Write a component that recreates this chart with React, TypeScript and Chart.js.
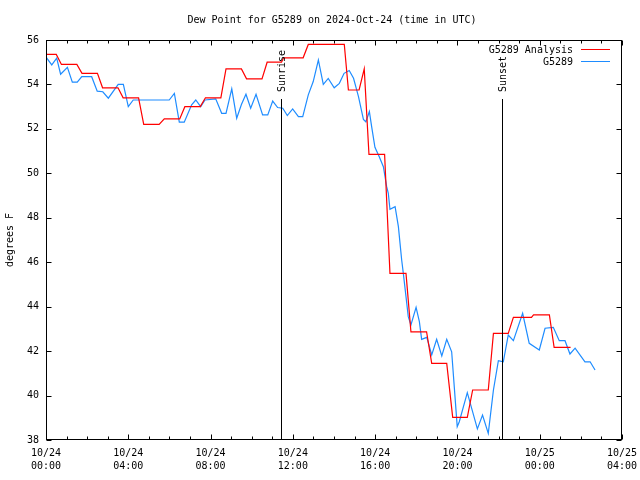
import React, { useEffect, useRef } from "react";
import { Chart, registerables } from "chart.js";

Chart.register(...registerables);

const TITLE = "Dew Point for G5289 on 2024-Oct-24 (time in UTC)";
const Y_TITLE = "degrees F";
const ANALYSIS_LABEL = "G5289 Analysis";
const OBS_LABEL = "G5289";
const SUNRISE_LABEL = "Sunrise";
const SUNSET_LABEL = "Sunset";

// hours since 10/24 00:00 UTC
const X_MIN = 0;
const X_MAX = 28;
const X_STEP = 4;
const X_TICK_LABELS: string[][] = [
  ["10/24", "00:00"],
  ["10/24", "04:00"],
  ["10/24", "08:00"],
  ["10/24", "12:00"],
  ["10/24", "16:00"],
  ["10/24", "20:00"],
  ["10/25", "00:00"],
  ["10/25", "04:00"],
];
const Y_MIN = 38;
const Y_MAX = 56;
const Y_STEP = 2;

const SUNRISE_HOUR = 11.44;
const SUNSET_HOUR = 22.18;

const ANALYSIS_HOURS = [
  0, 0.5, 0.75, 1.5, 1.75, 2.5, 2.75, 3.5, 3.75, 4.5, 4.75, 5.5, 5.75, 6.5, 6.75, 7.5, 7.75, 8.5, 8.75,
  9.5, 9.75, 10.5, 10.75, 11.45, 11.55, 12.5, 12.75, 14.5, 14.7, 15.22, 15.47, 15.7, 16.46, 16.72, 17.5,
  17.74, 18.5, 18.75, 19.48, 19.77, 20.48, 20.74, 21.5, 21.75, 22.47, 22.72, 23.6, 23.7, 24.47, 24.7, 25.5,
];
const ANALYSIS_VALUES = [
  55.35, 55.35, 54.9, 54.9, 54.5, 54.5, 53.85, 53.85, 53.4, 53.4, 52.2, 52.2, 52.45, 52.45, 53.0, 53.0, 53.4, 53.4, 54.7,
  54.7, 54.25, 54.25, 55.0, 55.0, 55.2, 55.2, 55.8, 55.8, 53.75, 53.75, 54.7, 50.85, 50.85, 45.5, 45.5,
  42.87, 42.87, 41.45, 41.45, 39.02, 39.02, 40.25, 40.25, 42.8, 42.8, 43.52, 43.52, 43.63, 43.63, 42.17, 42.17,
];

const OBS_HOURS = [
  0.03, 0.28, 0.52, 0.71, 1.04, 1.28, 1.52, 1.74, 2.22, 2.49, 2.76, 3.03, 3.51, 3.76, 4.0, 4.24, 5.99, 6.24,
  6.48, 6.72, 7.08, 7.28, 7.52, 7.73, 8.25, 8.54, 8.75, 9.03, 9.27, 9.5, 9.72, 9.95, 10.21, 10.53, 10.78,
  11.02, 11.26, 11.51, 11.73, 11.99, 12.27, 12.48, 12.75, 12.99, 13.24, 13.48, 13.72, 14.01, 14.26, 14.49,
  14.74, 14.95, 15.19, 15.43, 15.55, 15.72, 15.83, 15.99, 16.2, 16.4, 16.56, 16.64, 16.72, 16.97, 17.13,
  17.21, 17.29, 17.37, 17.5, 17.61, 17.74, 17.99, 18.15, 18.26, 18.51, 18.75, 18.99, 19.24, 19.48, 19.72,
  19.99, 20.09, 20.48, 20.97, 21.22, 21.5, 21.75, 21.99, 22.23, 22.47, 22.72, 23.17, 23.49, 23.98, 24.26,
  24.66, 24.95, 25.23, 25.47, 25.72, 26.2, 26.45, 26.69,
];
const OBS_VALUES = [
  55.2, 54.88, 55.18, 54.46, 54.77, 54.1, 54.1, 54.35, 54.35, 53.7, 53.67, 53.38, 54.0, 54.0, 53.0, 53.3, 53.3, 53.6,
  52.3, 52.3, 53.08, 53.3, 53.0, 53.3, 53.35, 52.7, 52.7, 53.8, 52.48, 53.1, 53.56, 52.93, 53.56, 52.63, 52.63,
  53.25, 52.96, 52.93, 52.6, 52.9, 52.55, 52.55, 53.53, 54.13, 55.1, 54.0, 54.27, 53.85, 54.05, 54.5,
  54.63, 54.28, 53.45, 52.43, 52.32, 52.78, 52.1, 51.17, 50.75, 50.3, 49.4, 49.1, 48.38, 48.5, 47.6,
  46.85, 46.1, 45.5, 44.45, 43.55, 43.18, 43.97, 43.33, 42.53, 42.62, 41.83, 42.53, 41.78, 42.53, 41.97,
  38.6, 38.82, 40.13, 38.5, 39.12, 38.3, 40.25, 41.57, 41.52, 42.72, 42.47, 43.7, 42.35, 42.05, 43.03,
  43.07, 42.47, 42.47, 41.87, 42.13, 41.52, 41.52, 41.15,
];

const RED = "#ff0000";
const BLUE = "#1e8cff";
const FONT = "DejaVu Sans Mono";

const overlayPlugin = {
  id: "gnuplotOverlay",
  afterDatasetsDraw(chart: any) {
    const ctx: CanvasRenderingContext2D = chart.ctx;
    const { left, right, top, bottom } = chart.chartArea;
    const xs = chart.scales.x;
    const ys = chart.scales.y;
    ctx.save();
    ctx.strokeStyle = "#000";
    ctx.fillStyle = "#000";
    ctx.lineWidth = 1;

    // sunrise / sunset
    ctx.font = `10px ${FONT}`;
    const sun = (h: number, label: string) => {
      const px = Math.round(xs.getPixelForValue(h)) + 0.5;
      ctx.beginPath();
      ctx.moveTo(px, top + 59);
      ctx.lineTo(px, bottom);
      ctx.stroke();
      ctx.save();
      ctx.translate(px + 1, top + 52);
      ctx.rotate(-Math.PI / 2);
      ctx.textAlign = "left";
      ctx.textBaseline = "middle";
      ctx.fillText(label, 0, 0);
      ctx.restore();
    };
    sun(SUNRISE_HOUR, SUNRISE_LABEL);
    sun(SUNSET_HOUR, SUNSET_LABEL);

    // border
    const L = Math.round(left) + 0.5;
    const R = Math.round(right) - 0.5;
    const T = Math.round(top) + 0.5;
    const B = Math.round(bottom) - 0.5;
    ctx.strokeRect(L, T, R - L, B - T);

    // x ticks (major every 4h, minor every hour), mirrored
    ctx.beginPath();
    for (let h = X_MIN; h <= X_MAX; h++) {
      const px = Math.round(xs.getPixelForValue(h)) + 0.5;
      const len = h % X_STEP === 0 ? 5 : 3;
      ctx.moveTo(px, B);
      ctx.lineTo(px, B - len);
      ctx.moveTo(px, T);
      ctx.lineTo(px, T + len);
    }
    for (let v = Y_MIN; v <= Y_MAX; v += Y_STEP) {
      const py = Math.round(ys.getPixelForValue(v)) + 0.5;
      ctx.moveTo(L, py);
      ctx.lineTo(L + 5, py);
      ctx.moveTo(R, py);
      ctx.lineTo(R - 5, py);
    }
    ctx.stroke();

    // title
    ctx.font = `10px ${FONT}`;
    ctx.textAlign = "center";
    ctx.textBaseline = "middle";
    ctx.fillText(TITLE, 332, 20);

    // legend
    ctx.textAlign = "right";
    ctx.fillText(ANALYSIS_LABEL, 573, 50);
    ctx.fillText(OBS_LABEL, 573, 62);
    ctx.strokeStyle = RED;
    ctx.beginPath();
    ctx.moveTo(581, 49.5);
    ctx.lineTo(610, 49.5);
    ctx.stroke();
    ctx.strokeStyle = BLUE;
    ctx.beginPath();
    ctx.moveTo(581, 61.5);
    ctx.lineTo(610, 61.5);
    ctx.stroke();
    ctx.restore();
  },
};

export default function App() {
  const ref = useRef<HTMLCanvasElement | null>(null);
  useEffect(() => {
    if (!ref.current) return;
    Chart.defaults.font.family = FONT;
    Chart.defaults.font.size = 10;
    Chart.defaults.color = "#000";
    const analysis = ANALYSIS_HOURS.map((h, i) => ({ x: h, y: ANALYSIS_VALUES[i] }));
    const obs = OBS_HOURS.map((h, i) => ({ x: h, y: OBS_VALUES[i] }));
    const chart = new Chart(ref.current, {
      type: "line",
      data: {
        datasets: [
          {
            label: ANALYSIS_LABEL,
            data: analysis,
            borderColor: RED,
            borderWidth: 1.2,
            pointRadius: 0,
            tension: 0,
            fill: false,
          },
          {
            label: OBS_LABEL,
            data: obs,
            borderColor: BLUE,
            borderWidth: 1.2,
            pointRadius: 0,
            tension: 0,
            fill: false,
          },
        ],
      },
      options: {
        animation: false,
        responsive: false,
        devicePixelRatio: 1,
        parsing: false,
        layout: { padding: { left: 0, right: 18, top: 40, bottom: 0 } },
        plugins: {
          legend: { display: false },
          title: { display: false },
          tooltip: { enabled: false },
        },
        scales: {
          x: {
            type: "linear",
            min: X_MIN,
            max: X_MAX,
            grid: { display: false, drawTicks: false },
            border: { display: false },
            ticks: {
              stepSize: X_STEP,
              padding: 7,
              maxRotation: 0,
              autoSkip: false,
              font: { family: FONT, size: 10, lineHeight: 1.3 },
              callback: (v: any) => X_TICK_LABELS[Math.round(Number(v) / X_STEP)] ?? "",
            },
            afterFit: (s: any) => {
              s.height = 40;
              s.paddingLeft = 0;
              s.paddingRight = 0;
            },
          },
          y: {
            type: "linear",
            min: Y_MIN,
            max: Y_MAX,
            grid: { display: false, drawTicks: false },
            border: { display: false },
            title: { display: true, text: Y_TITLE, font: { family: FONT, size: 10 } },
            ticks: {
              stepSize: Y_STEP,
              padding: 7,
              font: { family: FONT, size: 10 },
            },
            afterFit: (s: any) => {
              s.width = 46;
              s.paddingTop = 0;
              s.paddingBottom = 0;
            },
          },
        },
      },
      plugins: [overlayPlugin],
    });
    return () => chart.destroy();
  }, []);
  return (
    <div style={{ position: "fixed", left: 0, top: 0, width: 640, height: 480, background: "#fff" }}>
      <canvas ref={ref} width={640} height={480} style={{ width: 640, height: 480, display: "block" }} />
    </div>
  );
}
